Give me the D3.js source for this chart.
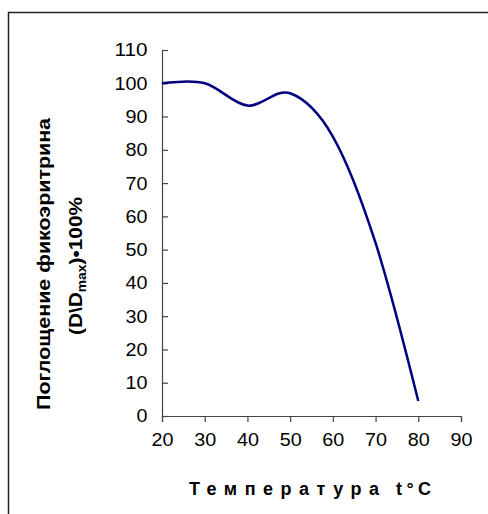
<!DOCTYPE html>
<html><head><meta charset="utf-8">
<script src="https://cdn.jsdelivr.net/npm/d3@7"></script>
<style>body{margin:0;background:#fff}svg{display:block}</style>
</head><body>
<svg id="c" width="488" height="514"></svg>
<script>
const temperatures = [20, 30, 40, 50, 60, 70, 80];
const absorption = [100, 100, 93.3, 97, 84, 52, 4.5];
const xTicks = [20, 30, 40, 50, 60, 70, 80, 90];
const yTicks = [0, 10, 20, 30, 40, 50, 60, 70, 80, 90, 100, 110];

const svg = d3.select("#c");
const font = "'Liberation Sans', Arial, sans-serif";

// frame
svg.append("path").attr("d", "M8.5,514 V12.5 H488").attr("fill", "none")
  .attr("stroke", "#222").attr("stroke-width", 1.5);

const x = d3.scaleLinear().domain([20, 90]).range([162, 461]);
const y = d3.scaleLinear().domain([0, 110]).range([416, 50]);

const axisColor = "#444";
const digitW = 11;
// x axis
const xa = svg.append("g").attr("transform", "translate(0,416)")
  .call(d3.axisBottom(x).tickValues(xTicks).tickSize(6).tickPadding(11).tickFormat(d3.format("d")));
// y axis
const ya = svg.append("g").attr("transform", "translate(162,0)")
  .call(d3.axisLeft(y).tickValues(yTicks).tickSize(-6).tickPadding(15).tickFormat(d3.format("d")));
[xa, ya].forEach(g => {
  g.select(".domain").attr("stroke", axisColor).attr("stroke-width", 1.2);
  g.selectAll(".tick line").attr("stroke", axisColor).attr("stroke-width", 1.2);
  g.selectAll(".tick text").attr("fill", "#000").style("font-family", font).style("font-size", "18.5px")
    .attr("textLength", d => String(d).length * digitW).attr("lengthAdjust", "spacingAndGlyphs");
});
ya.selectAll(".tick text").attr("x", -14.5);

// line
const line = d3.line().x((d, i) => x(temperatures[i])).y(d => y(d)).curve(d3.curveCardinal.tension(0));
svg.append("path").datum(absorption).attr("d", line).attr("fill", "none")
  .attr("stroke", "#000080").attr("stroke-width", 2.5);

// x title
const tStyle = s => s.style("font-family", font).style("font-size", "18px").style("font-weight", "bold");
svg.append("text").attr("x", 189).attr("y", 495).call(tStyle)
  .attr("textLength", 190).attr("lengthAdjust", "spacing").text("Температура");
svg.append("text").attr("x", 396).attr("y", 495).call(tStyle)
  .attr("textLength", 35).attr("lengthAdjust", "spacing").text("t°C");

// y title
svg.append("text").attr("transform", "translate(50,264) rotate(-90)")
  .attr("text-anchor", "middle").call(tStyle)
  .attr("textLength", 292).attr("lengthAdjust", "spacingAndGlyphs").text("Поглощение фикоэритрина");
const t2 = svg.append("text").attr("transform", "translate(82,266) rotate(-90)")
  .attr("text-anchor", "middle").call(tStyle)
  .attr("textLength", 138).attr("lengthAdjust", "spacingAndGlyphs");
t2.append("tspan").text("(D\\D");
t2.append("tspan").attr("dy", 4).style("font-size", "12px").text("max");
t2.append("tspan").attr("dy", -4).text(")•100%");
</script>
</body></html>
